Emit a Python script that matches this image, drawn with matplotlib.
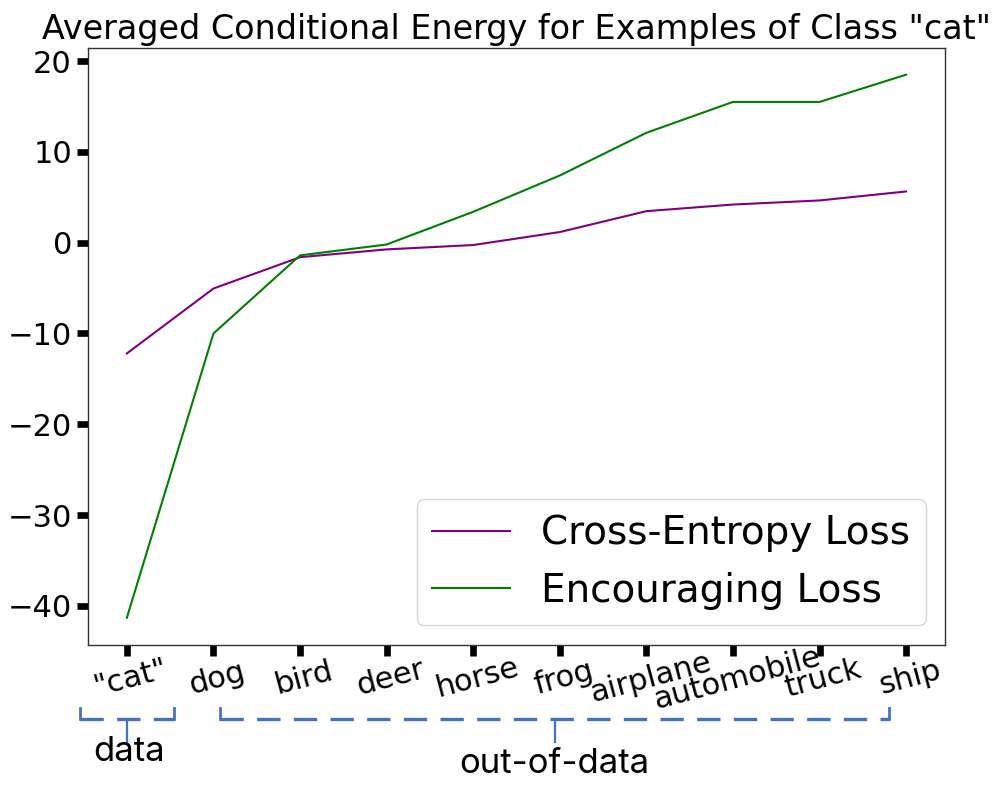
import matplotlib
matplotlib.use("Agg")
import matplotlib.pyplot as plt
import matplotlib.transforms as mtransforms
from matplotlib.lines import Line2D

categories = ['"cat"', 'dog', 'bird', 'deer', 'horse', 'frog',
              'airplane', 'automobile', 'truck', 'ship']
cross_entropy = [-12.2, -5.05, -1.6, -0.74, -0.26, 1.17, 3.47, 4.2, 4.65, 5.64]
encouraging = [-41.3, -10.0, -1.4, -0.2, 3.4, 7.4, 12.1, 15.5, 15.5, 18.5]
yticks = [-40, -30, -20, -10, 0, 10, 20]

fig = plt.figure(figsize=(9.99, 8.06), dpi=100)
ax = fig.add_axes([0.088, 0.200, 0.858, 0.741])

x = list(range(len(categories)))
ax.plot(x, cross_entropy, color="purple", lw=1.5, label="Cross-Entropy Loss")
ax.plot(x, encouraging, color="green", lw=1.5, label="Encouraging Loss")

ax.set_xticks(x)
ax.set_xticklabels(categories, fontsize=22)
plt.setp(ax.get_xticklabels(), rotation=15, rotation_mode="anchor",
         ha="center", va="top")
ax.set_yticks(yticks)
ax.tick_params(axis="both", labelsize=22, width=4.8, length=8)
ax.tick_params(axis="x", pad=6)
for s in ax.spines.values():
    s.set_linewidth(1.0)
    s.set_color("#333333")

ax.set_title('Averaged Conditional Energy for Examples of Class "cat"', fontsize=24)
ax.legend(loc="lower right", fontsize=28)

# bracket annotations beneath the axis (x in data coords, y in figure coords)
trans = mtransforms.blended_transform_factory(ax.transData, fig.transFigure)
blue = "#4472C4"
yb, ytop, ystem = 0.108, 0.121, 0.080

def bracket(x0, x1, xc):
    fig.add_artist(Line2D([x0, x1], [yb, yb], transform=trans, color=blue,
                          lw=2.4, linestyle=(0, (7.0, 4.0)), clip_on=False))
    for xe in (x0, x1):
        fig.add_artist(Line2D([xe, xe], [yb, ytop], transform=trans, color=blue,
                              lw=2.0, clip_on=False))
    fig.add_artist(Line2D([xc, xc], [yb, ystem], transform=trans, color=blue,
                          lw=1.6, clip_on=False))

bracket(-0.54, 0.55, 0.0)
bracket(1.07, 8.80, 4.94)

fam = ["Inter", "Noto Sans CJK SC", "DejaVu Sans"]
fig.text(0.03, 0.067, "data", transform=trans, ha="center", va="center",
         fontsize=25, family=fam)
fig.text(4.94, 0.052, "out-of-data", transform=trans, ha="center", va="center",
         fontsize=25, family=fam)

fig.savefig("out.png", dpi=100)
